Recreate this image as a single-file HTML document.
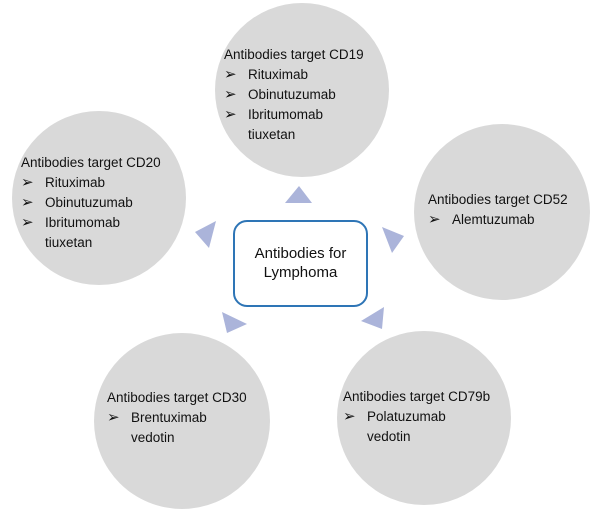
<!DOCTYPE html>
<html><head><meta charset="utf-8"><style>
body{margin:0;width:603px;height:513px;background:#fff;position:relative;overflow:hidden;font-family:"Liberation Sans",Arial,sans-serif}
svg{position:absolute;left:0;top:0}
.t{position:absolute;font-size:13.5px;line-height:20px;color:#111;white-space:nowrap}
.t span{display:inline-block;width:24px;font-size:15px;font-family:"DejaVu Sans",sans-serif;line-height:18px}
.i{padding-left:24px}
</style></head><body>
<svg width="603" height="513">
<g fill="#d9d9d9">
<circle cx="302" cy="90" r="87"/>
<circle cx="99" cy="198" r="87"/>
<circle cx="502" cy="212" r="88"/>
<circle cx="182" cy="421" r="88"/>
<circle cx="424" cy="418" r="87"/>
</g>
<g fill="#abb4da">
<polygon points="299,186 285,203 312,203"/>
<polygon points="216,221 209,248 195,232"/>
<polygon points="382,227 404,236 392,253"/>
<polygon points="222,312 247,324 227,333"/>
<polygon points="384,307 382,329 361,321"/>
</g>
<rect x="234" y="221" width="133" height="85" rx="13" fill="#fff" stroke="#2e75b6" stroke-width="2"/>
<text x="300.5" y="258" font-size="15" text-anchor="middle" font-family="Liberation Sans,Arial,sans-serif" fill="#111">Antibodies for</text>
<text x="300.5" y="277" font-size="15" text-anchor="middle" font-family="Liberation Sans,Arial,sans-serif" fill="#111">Lymphoma</text>
</svg>
<div class="t" style="left:224px;top:45px">Antibodies target CD19<br><span>➢</span>Rituximab<br><span>➢</span>Obinutuzumab<br><span>➢</span>Ibritumomab<br><div class="i">tiuxetan</div></div>
<div class="t" style="left:21px;top:153px">Antibodies target CD20<br><span>➢</span>Rituximab<br><span>➢</span>Obinutuzumab<br><span>➢</span>Ibritumomab<br><div class="i">tiuxetan</div></div>
<div class="t" style="left:428px;top:190px">Antibodies target CD52<br><span>➢</span>Alemtuzumab</div>
<div class="t" style="left:107px;top:388px">Antibodies target CD30<br><span>➢</span>Brentuximab<br><div class="i">vedotin</div></div>
<div class="t" style="left:343px;top:387px">Antibodies target CD79b<br><span>➢</span>Polatuzumab<br><div class="i">vedotin</div></div>
</body></html>
